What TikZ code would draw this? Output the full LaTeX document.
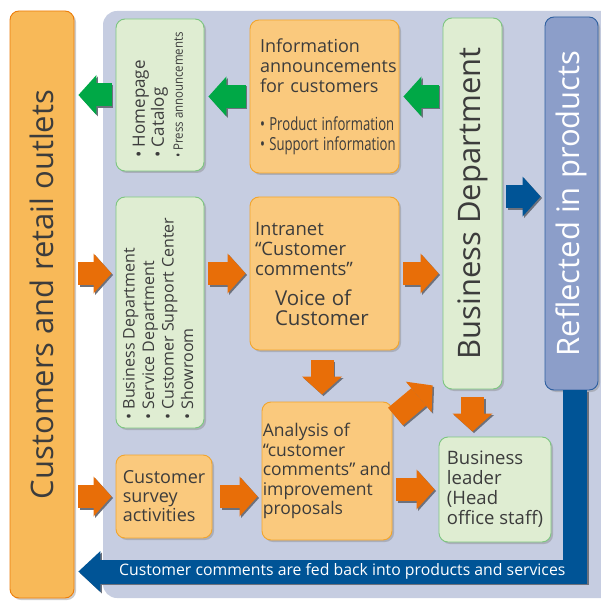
\documentclass[tikz,border=0pt]{standalone}
\usepackage{fontspec}
\setmainfont{Open Sans}
\usepackage{graphicx}
\usetikzlibrary{arrows.meta,shadows}

\definecolor{panelblue}{RGB}{198,205,225}
\definecolor{boxorange}{RGB}{250,201,125}
\definecolor{barorange}{RGB}{248,185,88}
\definecolor{edgeorange}{RGB}{242,165,45}
\definecolor{baredge}{RGB}{236,125,10}
\definecolor{boxgreen}{RGB}{223,237,210}
\definecolor{edgegreen}{RGB}{125,198,128}
\definecolor{reflectblue}{RGB}{140,158,201}
\definecolor{edgeblue}{RGB}{45,95,160}
\definecolor{darkblue}{RGB}{0,84,150}
\definecolor{arrorange}{RGB}{232,110,8}
\definecolor{arrgreen}{RGB}{0,168,70}
\definecolor{textgray}{RGB}{60,60,60}

\tikzset{
  box/.style={rounded corners=9pt, line width=0.9pt, inner sep=0pt, text=textgray,
    drop shadow={shadow xshift=2pt, shadow yshift=-2pt, opacity=0.4}},
  orangebox/.style={box, fill=boxorange, draw=edgeorange},
  greenbox/.style={box, fill=boxgreen, draw=edgegreen},
  fat/.style={line width=23pt, shorten <=4pt, shorten >=4pt,
    -{Triangle[width=40pt, length=18pt, line width=0pt]}},
}
\newcommand{\fatarrow}[4][]{%
  \draw[fat, #1, panelblue!55!black, transform canvas={shift={(1.5pt,-1.5pt)}}] #3 -- #4;
  \draw[fat, #1, #2] #3 -- #4;}
\newcommand{\cond}[1]{\scalebox{0.73}[1]{#1}}

\begin{document}
\begin{tikzpicture}[x=1pt,y=-1pt]
\useasboundingbox (0,0) rectangle (600,601);

\fill[panelblue, rounded corners=14pt] (103,11) rectangle (620,598);

% left and right columns
\node[box, fill=barorange, draw=baredge, minimum width=64, minimum height=587] (outlets) at (42,304.5)
  {\rotatebox{90}{\fontsize{31}{31}\selectfont\hspace*{20pt}Customers and retail outlets}};
\node[greenbox, minimum width=59, minimum height=371] (bizdept) at (472.5,203.5)
  {\rotatebox{90}{\fontsize{31}{31}\selectfont Business Department}};
\node[box, fill=reflectblue, draw=edgeblue, text=white, minimum width=53, minimum height=373] (reflect) at (571.5,203.5)
  {\rotatebox{90}{\fontsize{31}{31}\selectfont Reflected in products}};

% top row
\node[greenbox, minimum width=88, minimum height=152] (web) at (160,95)
  {\rotatebox{90}{\fontsize{17}{19}\selectfont\begin{tabular}{@{}l@{}}• Homepage\\• Catalog\\{\fontsize{13}{15}\selectfont\scalebox{0.88}[1]{• Press announcements}}\end{tabular}}};
\node[orangebox, minimum width=149, minimum height=153, text width=129, align=left,
  font=\fontsize{18}{20}\selectfont] (info) at (324.5,96.5)
  {Information\\announcements\\for customers\\[18pt]\cond{• Product information}\\\cond{• Support information}};

% middle row
\node[greenbox, minimum width=88, minimum height=231] (channels) at (160,312.5)
  {\rotatebox{90}{\fontsize{16}{19.5}\selectfont\begin{tabular}{@{}l@{\hspace{12pt}}}• Business Department\\• Service Department\\• Customer Support Center\\• Showroom\end{tabular}}};
\node[orangebox, minimum width=149, minimum height=153, text width=139, align=left,
  font=\fontsize{18.5}{20}\selectfont] (voc) at (324.5,273.5)
  {Intranet\\“Customer\\comments”\\[7pt]\fontsize{20.5}{23}\selectfont\hspace*{20pt}Voice of\\\fontsize{20.5}{23}\selectfont\hspace*{20pt}Customer};

% bottom row
\node[orangebox, minimum width=96, minimum height=83, align=left,
  font=\fontsize{18}{19}\selectfont] (survey) at (164,496.5)
  {Customer\\survey\\activities};
\node[orangebox, minimum width=130, minimum height=138, align=left,
  font=\fontsize{17.5}{19.5}\selectfont] (analysis) at (327,471)
  {Analysis of\\“customer\\comments” and\\improvement\\proposals};
\node[greenbox, minimum width=112, minimum height=105, align=left,
  font=\fontsize{18.5}{20}\selectfont] (leader) at (495,489.5)
  {Business\\leader\\(Head\\office staff)};

% feedback into products
\coordinate (fedlevel) at (300,571.5);
\draw[line width=24pt, panelblue!55!black, transform canvas={shift={(1.5pt,-1.5pt)}},
  -{Triangle[width=41pt, length=22pt, line width=0pt]}, shorten >=4pt]
  ([xshift=3.5pt]reflect.south) |- (outlets.east |- fedlevel);
\draw[line width=24pt, darkblue, -{Triangle[width=41pt, length=22pt, line width=0pt]}, shorten >=4pt]
  ([xshift=3.5pt]reflect.south) |- (outlets.east |- fedlevel)
  node[pos=0.7325, text=white, font=\fontsize{15.8}{16}\selectfont] {Customer comments are fed back into products and services};

% block arrows
\fatarrow{arrgreen}{(web.west)}{(web.west -| outlets.east)}
\fatarrow{arrgreen}{(info.west)}{(info.west -| web.east)}
\fatarrow{arrgreen}{(bizdept.west |- info.west)}{(info.east)}
\fatarrow{darkblue}{(bizdept.east |- channels.north)}{(reflect.west |- channels.north)}
\fatarrow{arrorange}{(outlets.east |- voc.west)}{(channels.west |- voc.west)}
\fatarrow{arrorange}{(channels.east |- voc.west)}{(voc.west)}
\fatarrow{arrorange}{(voc.east)}{(bizdept.west |- voc.east)}
\fatarrow[shorten <=10pt, shorten >=7pt]{arrorange}{([xshift=-2.5pt]voc.south)}{([xshift=-2.5pt]voc.south |- analysis.north)}
\fatarrow[shorten <=0pt, shorten >=0pt]{arrorange}{([shift={(3,15)}]analysis.north east)}{([shift={(-10,-4)}]bizdept.south west)}
\fatarrow[shorten <=8pt, shorten >=5pt]{arrorange}{(bizdept.south)}{(bizdept.south |- leader.north)}
\fatarrow{arrorange}{(analysis.east |- leader.west)}{(leader.west)}
\fatarrow{arrorange}{(outlets.east |- survey.west)}{(survey.west)}
\fatarrow[shorten <=8pt]{arrorange}{(survey.east)}{(survey.east -| analysis.west)}

\end{tikzpicture}
\end{document}
